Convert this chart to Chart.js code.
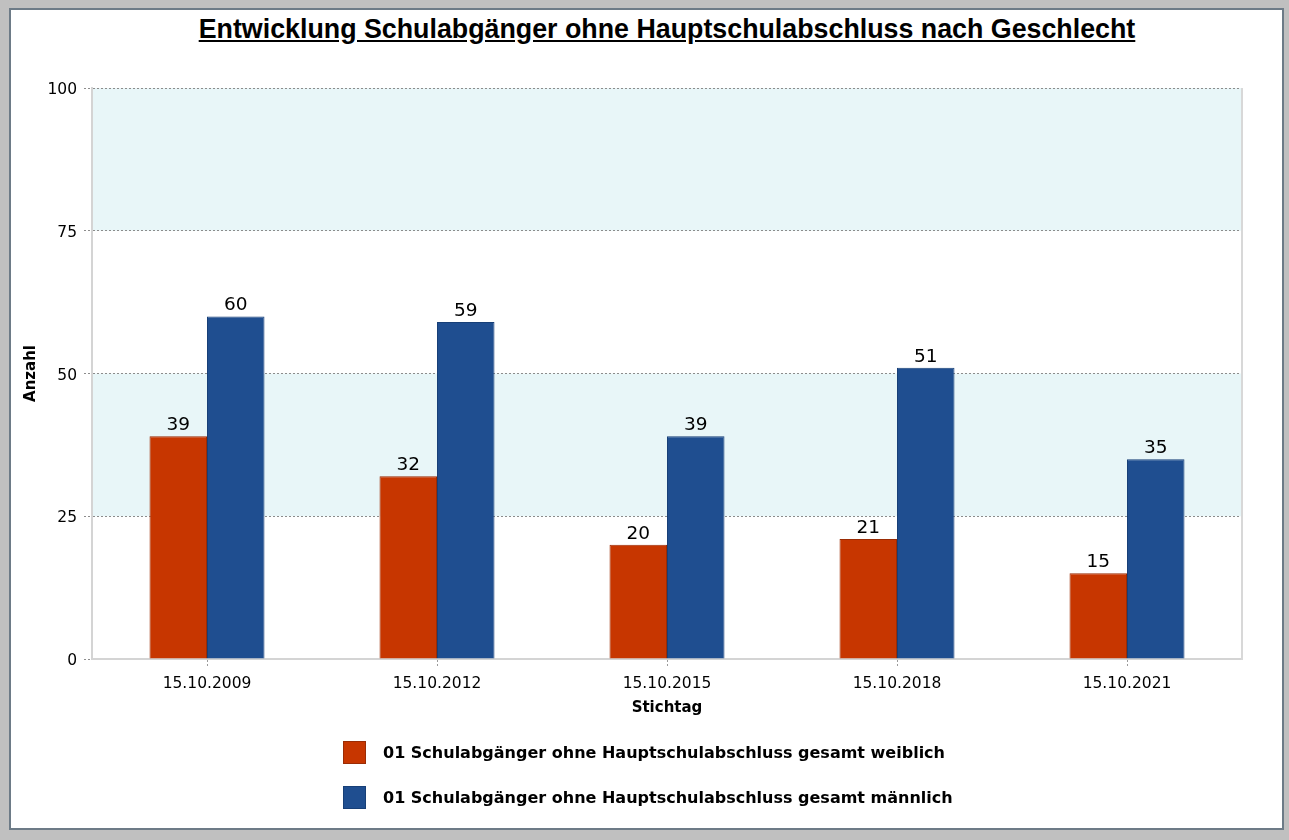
<!DOCTYPE html>
<html><head><meta charset="utf-8">
<script src="https://cdn.jsdelivr.net/npm/chart.js@4/dist/chart.umd.min.js"></script>
<style>
html,body{margin:0;padding:0;background:#c0c0c0;width:1289px;height:840px;overflow:hidden;}
#panel{position:absolute;left:9px;top:8px;width:1271px;height:818px;background:#fff;border:2px solid #6d7b87;}
#title{position:absolute;left:92px;width:1150px;top:14px;text-align:center;font:bold 26.8px "Liberation Sans",Arial,sans-serif;text-decoration:underline;color:#000;white-space:nowrap;}
#wrap{position:absolute;left:0;top:0;width:1289px;height:840px;}
#legend{position:absolute;left:343px;top:741px;font:bold 16px "DejaVu Sans",sans-serif;color:#000;}
.item{display:flex;align-items:center;height:23px;margin-bottom:22px;white-space:nowrap;}
.sw{width:21px;height:21px;border:1px solid;margin-right:17px;box-sizing:content-box;}
</style></head>
<body>
<div id="panel"></div>
<div id="title">Entwicklung Schulabgänger ohne Hauptschulabschluss nach Geschlecht</div>
<div id="wrap"><canvas id="c" width="1289" height="840"></canvas></div>
<div id="legend"></div>
<script>
const categories = ['15.10.2009','15.10.2012','15.10.2015','15.10.2018','15.10.2021'];
const weiblich = [39, 32, 20, 21, 15];
const maennlich = [60, 59, 39, 51, 35];
const seriesLabels = ['01 Schulabgänger ohne Hauptschulabschluss gesamt weiblich','01 Schulabgänger ohne Hauptschulabschluss gesamt männlich'];
const yTicks = [0, 25, 50, 75, 100];
const xTitle = 'Stichtag';
const yTitle = 'Anzahl';

const fillColors = ['#c73600', '#1f4e90'];
const borderColors = ['#9a2c05', '#173f77'];

const bandsPlugin = {
  id: 'bands',
  beforeDraw(chart) {
    const {ctx, chartArea: a, scales: {y}} = chart;
    ctx.save();
    ctx.fillStyle = '#e8f6f8';
    const t = y.ticks;
    for (let i = 0; i < t.length - 1; i++) {
      if (i % 2 === 1) {
        const p1 = y.getPixelForValue(t[i].value), p2 = y.getPixelForValue(t[i+1].value);
        ctx.fillRect(a.left, p2, a.right - a.left, p1 - p2);
      }
    }
    ctx.restore();
  },
  afterDraw(chart) {
    const {ctx, chartArea: a} = chart;
    ctx.save();
    ctx.strokeStyle = '#d8d8d8';
    ctx.lineWidth = 2;
    ctx.beginPath();
    ctx.moveTo(a.right, a.top);
    ctx.lineTo(a.right, a.bottom + 1);
    ctx.stroke();
    ctx.restore();
  }
};

const labelsPlugin = {
  id: 'valueLabels',
  afterDatasetsDraw(chart) {
    const {ctx} = chart;
    ctx.save();
    ctx.font = '18.5px "DejaVu Sans", sans-serif';
    ctx.fillStyle = '#000';
    ctx.textAlign = 'center';
    ctx.textBaseline = 'alphabetic';
    chart.data.datasets.forEach((ds, di) => {
      chart.getDatasetMeta(di).data.forEach((bar, i) => {
        ctx.fillText(String(ds.data[i]), bar.x, bar.y - 6);
      });
    });
    ctx.restore();
  }
};

const chart = new Chart(document.getElementById('c'), {
  type: 'bar',
  data: {
    labels: categories,
    datasets: [
      {label: seriesLabels[0], data: weiblich, backgroundColor: fillColors[0], borderColor: borderColors[0], borderWidth: 1},
      {label: seriesLabels[1], data: maennlich, backgroundColor: fillColors[1], borderColor: borderColors[1], borderWidth: 1}
    ]
  },
  options: {
    responsive: false,
    animation: false,
    devicePixelRatio: 1,
    datasets: {bar: {categoryPercentage: 0.5, barPercentage: 1.0}},
    layout: {padding: {left: 20, right: 47, top: 88, bottom: 121}},
    plugins: {legend: {display: false}, tooltip: {enabled: false}, title: {display: false}},
    scales: {
      x: {
        offset: true,
        grid: {display: true, drawOnChartArea: false, drawTicks: true, tickLength: 8, offset: false, tickColor: '#9a9a9a', tickBorderDash: [2, 2]},
        border: {color: '#d4d4d4', width: 2},
        ticks: {color: '#000', font: {family: '"DejaVu Sans", sans-serif', size: 15.5}, padding: 8, maxRotation: 0, autoSkip: false},
        title: {display: true, text: xTitle, color: '#000', font: {family: '"DejaVu Sans", sans-serif', size: 15, weight: 'bold'}, padding: {top: 0, bottom: 2}},
        afterFit(s) { s.height = 60; }
      },
      y: {
        min: 0, max: 100,
        afterBuildTicks(s) { s.ticks = yTicks.map(v => ({value: v})); },
        grid: {color: '#8c8c8c', tickLength: 8, tickBorderDash: [2, 2], tickColor: '#8c8c8c'},
        border: {color: '#d4d4d4', width: 2, dash: [2, 2]},
        ticks: {color: '#000', font: {family: '"DejaVu Sans", sans-serif', size: 15.5}, padding: 7, labelOffset: 2},
        title: {display: true, text: yTitle, color: '#000', font: {family: '"DejaVu Sans", sans-serif', size: 15, weight: 'bold'}, padding: {top: 2, bottom: 0}},
        afterFit(s) { s.width = 72; }
      }
    }
  },
  plugins: [bandsPlugin, labelsPlugin]
});

const leg = document.getElementById('legend');
chart.data.datasets.forEach(ds => {
  const it = document.createElement('div');
  it.className = 'item';
  const sw = document.createElement('div');
  sw.className = 'sw';
  sw.style.background = ds.backgroundColor;
  sw.style.borderColor = ds.borderColor;
  const tx = document.createElement('span');
  tx.textContent = ds.label;
  it.appendChild(sw); it.appendChild(tx);
  leg.appendChild(it);
});
</script>
</body></html>
